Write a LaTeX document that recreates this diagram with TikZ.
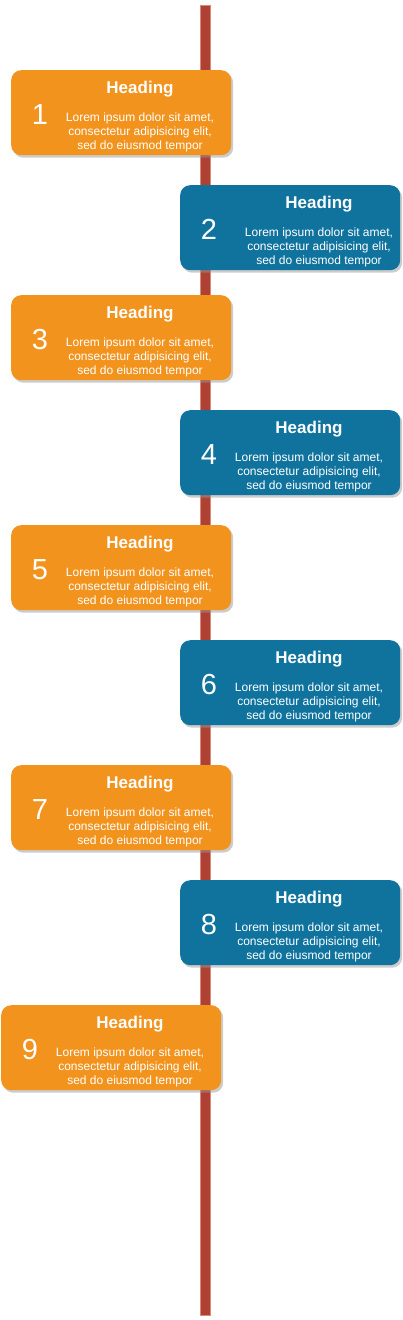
\documentclass[tikz,border=0pt]{standalone}
\usepackage{fontspec}
\setmainfont{Liberation Sans}
\usetikzlibrary{shadows}

\definecolor{tlorange}{HTML}{F2931E}
\definecolor{tlblue}{HTML}{10739E}
\definecolor{tlline}{HTML}{AE4132}
\definecolor{tledge}{HTML}{D98A7E}

\tikzset{
  card/.style={rectangle, rounded corners=10pt, anchor=north west,
    minimum width=220pt, minimum height=85pt, inner sep=0pt,
    drop shadow={shadow xshift=2pt, shadow yshift=-2.5pt, fill=black!40, opacity=0.5}},
  cardnum/.style={anchor=base, text=white, font=\fontsize{29}{29}\selectfont},
  cardhead/.style={anchor=base, text=white, font=\fontsize{17}{17}\selectfont\bfseries},
  cardtext/.style={anchor=base, text=white, align=center, font=\fontsize{12}{14}\selectfont},
}

\begin{document}
\begin{tikzpicture}[x=1pt,y=-1pt]

\useasboundingbox (0,0) rectangle (403,1320);

% Timeline
\draw[fill=tlline, draw=tledge]
(200,5) rectangle (210,1315);

% Cards
\foreach \n/\x/\y/\col/\dx in {1/11/70/tlorange/0, 2/180/185/tlblue/10,
  3/11/295/tlorange/0, 4/180/410/tlblue/0, 5/11/525/tlorange/0,
  6/180/640/tlblue/0, 7/11/765/tlorange/0, 8/180/880/tlblue/0,
  9/1/1005/tlorange/0} {
  \node[card, fill=\col] (card\n) at (\x,\y) {};
  \node[cardnum] (num\n) at ([shift={(29,54)}]card\n.north west) {\n};
  \node[cardhead] (head\n) at ([shift={(129+\dx,23)}]card\n.north west) {Heading};
  \node[cardtext] (text\n) at ([shift={(129+\dx,79)}]card\n.north west)
    {Lorem ipsum dolor sit amet,\\ consectetur adipisicing elit,\\ sed do eiusmod tempor};
}

\end{tikzpicture}
\end{document}
